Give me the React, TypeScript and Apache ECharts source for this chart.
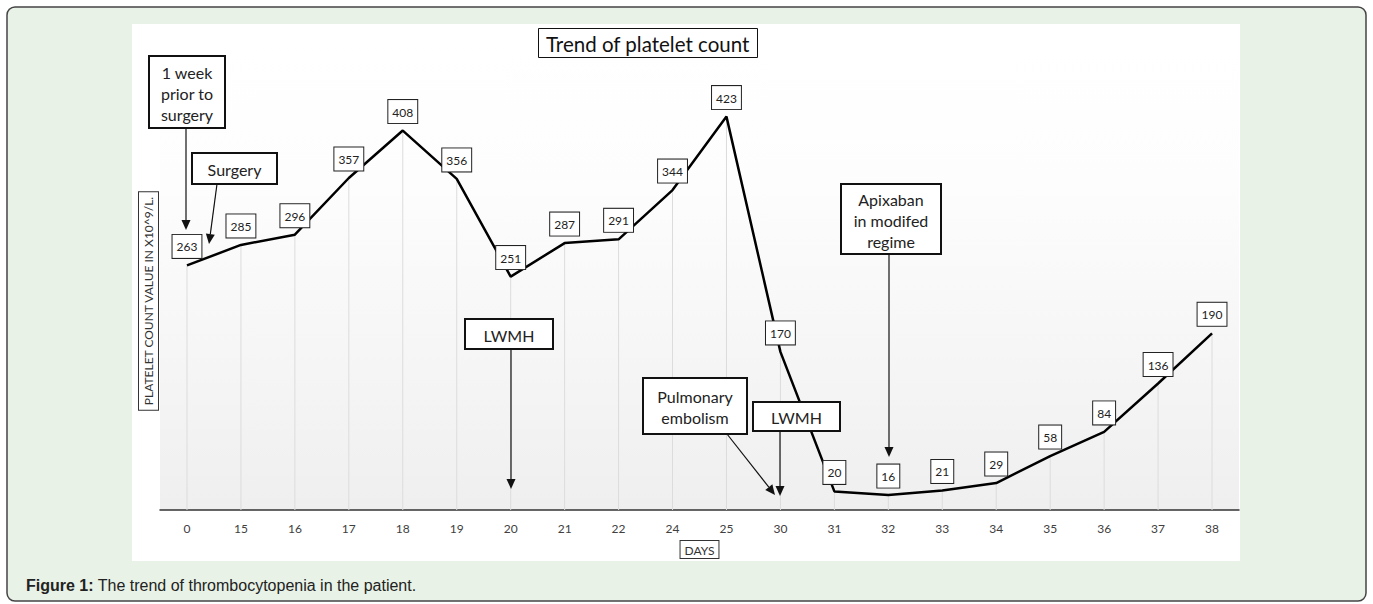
import React, { useEffect, useRef } from "react";
import * as echarts from "echarts";

const days = ["0", "15", "16", "17", "18", "19", "20", "21", "22", "24", "25", "30", "31", "32", "33", "34", "35", "36", "37", "38"];
const plateletCounts = [263, 285, 296, 357, 408, 356, 251, 287, 291, 344, 423, 170, 20, 16, 21, 29, 58, 84, 136, 190];
const chartTitle = "Trend of platelet count";
const yAxisName = "PLATELET COUNT VALUE IN X10^9/L.";
const xAxisName = "DAYS";
const captionBold = "Figure 1:";
const captionText = " The trend of thrombocytopenia in the patient.";

const FONT = "Lato, 'Open Sans', sans-serif";

function arrow(x1: number, y1: number, x2: number, y2: number) {
  const dx = x2 - x1, dy = y2 - y1;
  const len = Math.sqrt(dx * dx + dy * dy);
  const ux = dx / len, uy = dy / len;
  const L = 10, W = 4.5;
  const bx = x2 - ux * L, by = y2 - uy * L;
  return [
    { type: "line", z: 100, shape: { x1, y1, x2: bx, y2: by }, style: { stroke: "#111", lineWidth: 1.2 } },
    {
      type: "polygon", z: 100,
      shape: { points: [[x2, y2], [bx - uy * W, by + ux * W], [bx + uy * W, by - ux * W]] },
      style: { fill: "#111" },
    },
  ];
}

function box(x: number, y: number, w: number, h: number, text: string) {
  return [
    { type: "rect", z: 100, shape: { x, y, width: w, height: h }, style: { fill: "#fff", stroke: "#111", lineWidth: 2 } },
    {
      type: "text", z: 101, x: x + w / 2, y: y + h / 2 + 1,
      style: { text, fill: "#222", font: `16px ${FONT}`, align: "center", verticalAlign: "middle", lineHeight: 21 },
    },
  ];
}

export default function App() {
  const ref = useRef<HTMLDivElement>(null);
  useEffect(() => {
    if (!ref.current) return;
    const chart = echarts.init(ref.current, null, { renderer: "svg" });
    chart.setOption({
      animation: false,
      title: {
        text: chartTitle,
        left: 538,
        top: 28,
        padding: [5, 8, 4, 8],
        borderColor: "#111",
        borderWidth: 1,
        backgroundColor: "#fff",
        textStyle: { fontSize: 20.5, fontWeight: "normal", color: "#111", fontFamily: FONT },
      },
      grid: {
        left: 160,
        right: 134,
        top: 45,
        bottom: 94,
        show: true,
        borderWidth: 0,
        backgroundColor: new echarts.graphic.LinearGradient(0, 0, 0, 1, [
          { offset: 0, color: "#ffffff" },
          { offset: 0.3, color: "#fdfdfd" },
          { offset: 1, color: "#efefef" },
        ]),
      },
      xAxis: {
        type: "category",
        data: days,
        axisLine: { lineStyle: { color: "#333", width: 1.5 } },
        axisTick: { show: false },
        axisLabel: { color: "#404040", fontSize: 12, fontFamily: FONT, margin: 12 },
        name: xAxisName,
        nameLocation: "middle",
        nameGap: 31,
        nameTextStyle: {
          color: "#333", fontSize: 12, fontFamily: FONT,
          borderColor: "#333", borderWidth: 1, padding: [3, 4, 2, 4], backgroundColor: "#fff",
        },
      },
      yAxis: {
        type: "value",
        min: 0,
        max: 500,
        axisLine: { show: false },
        axisTick: { show: false },
        axisLabel: { show: false },
        splitLine: { show: false },
      },
      series: [
        {
          type: "bar",
          data: plateletCounts,
          barWidth: 1,
          itemStyle: { color: "#dcdcdc" },
          silent: true,
          z: 1,
        },
        {
          type: "line",
          data: plateletCounts,
          symbol: "circle",
          symbolSize: 1,
          itemStyle: { color: "rgba(0,0,0,0)" },
          lineStyle: { color: "#000", width: 2.5 },
          z: 3,
          label: {
            show: true,
            position: "top",
            distance: 7,
            color: "#222",
            fontSize: 12,
            fontFamily: FONT,
            backgroundColor: "#fff",
            borderColor: "#222",
            borderWidth: 1,
            padding: [6, 4, 5, 4],
          },
        },
      ],
      graphic: [
        {
          type: "rect", z: -10, silent: true,
          shape: { x: 7, y: 7, width: 1359, height: 594, r: 8 },
          style: { fill: "#e8f2e6", stroke: "#444", lineWidth: 1.5 },
        },
        {
          type: "rect", z: -9, silent: true,
          shape: { x: 132, y: 24, width: 1108, height: 537 },
          style: { fill: "#fff" },
        },
        {
          type: "text", z: 10, x: 26, y: 585,
          style: {
            text: `{b|${captionBold}}${captionText}`,
            fill: "#222",
            font: "16px 'Liberation Sans', Arial, sans-serif",
            verticalAlign: "middle",
            rich: { b: { fontWeight: "bold", fontSize: 16, fontFamily: "'Liberation Sans', Arial, sans-serif", fill: "#222" } },
          },
        },
        {
          type: "text", z: 10, x: 148.5, y: 301, rotation: Math.PI / 2,
          style: {
            text: yAxisName,
            fill: "#333",
            font: `12px ${FONT}`,
            align: "center",
            verticalAlign: "middle",
            backgroundColor: "#fff",
            borderColor: "#333",
            borderWidth: 1,
            padding: [4, 4, 3, 4],
          },
        },
        ...box(149, 56, 76, 72, "1 week\nprior to\nsurgery"),
        ...arrow(186, 128, 186, 230),
        ...box(192, 153, 85, 31, "Surgery"),
        ...arrow(217, 184, 209, 244),
        ...box(465, 319, 88, 30, "LWMH"),
        ...arrow(511, 349, 511, 489),
        ...box(643, 378, 104, 56, "Pulmonary\nembolism"),
        ...arrow(727, 434, 775, 495),
        ...box(753, 402, 87, 29, "LWMH"),
        ...arrow(780, 431, 780, 496),
        ...box(841, 184, 100, 70, "Apixaban\nin modifed\nregime"),
        ...arrow(889, 254, 889, 457),
      ],
    });
    return () => chart.dispose();
  }, []);
  return <div ref={ref} style={{ position: "absolute", left: 0, top: 0, width: 1373, height: 604 }} />;
}
